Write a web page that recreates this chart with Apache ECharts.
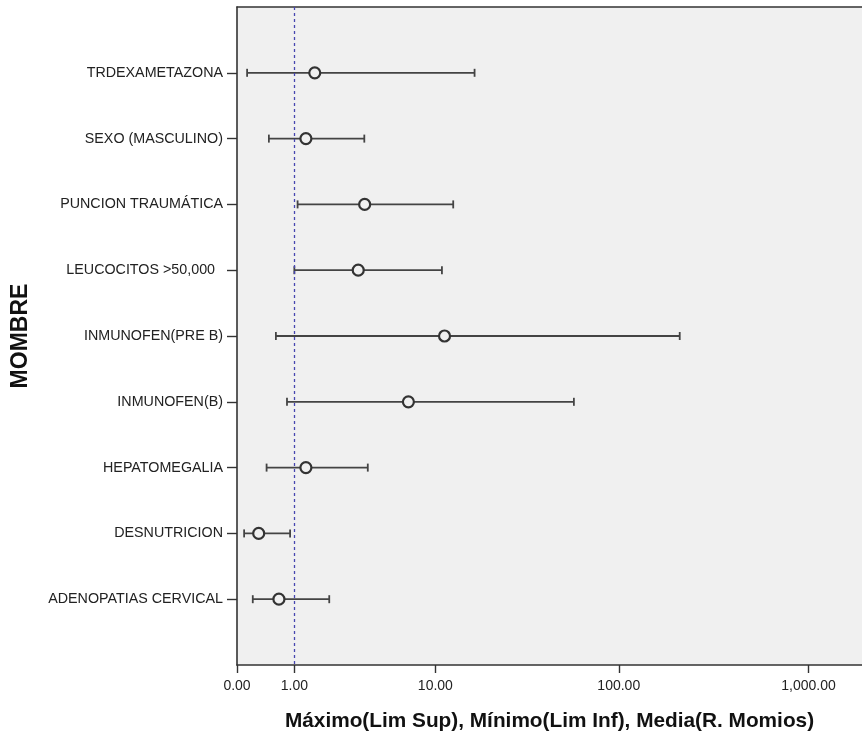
<!DOCTYPE html>
<html>
<head>
<meta charset="utf-8">
<title>Razón de momios por variable</title>
<script src="https://cdn.jsdelivr.net/npm/echarts@6/dist/echarts.min.js"></script>
<style>
  html, body { margin: 0; padding: 0; background: #ffffff; }
  #chart { width: 862px; height: 737px; }
</style>
</head>
<body>
<div id="chart"></div>
<script>
// Variables, top to bottom
const variables = [
  'TRDEXAMETAZONA',
  'SEXO (MASCULINO)',
  'PUNCION TRAUMÁTICA',
  'LEUCOCITOS >50,000  ',
  'INMUNOFEN(PRE B)',
  'INMUNOFEN(B)',
  'HEPATOMEGALIA',
  'DESNUTRICION',
  'ADENOPATIAS CERVICAL'
];

// Odds ratio (media) and its confidence limits
const limInf = [0.13, 0.47, 1.08, 1.00, 0.60, 0.83, 0.43, 0.09, 0.21];
const media  = [1.56, 1.30, 3.68, 3.33, 11.29, 6.94, 1.30, 0.30, 0.66];
const limSup = [16.67, 3.66, 12.65, 10.91, 210.0, 57.7, 3.86, 0.90, 2.05];

// Labelled positions on the horizontal axis
const xTicks = [0, 1, 10, 100, 1000];
const referenceValue = 1;

// "Safe" logarithmic scale: every value is shifted by one so that zero can sit on a log axis
const SHIFT = 1;
const X_MIN = 0;
const X_MAX = 1910;

const FONT = '"Liberation Sans", Arial, Helvetica, sans-serif';

// Blank slots at both ends give the rows their padding from the frame
const yCategories = [''].concat(variables, ['']);

const rows = variables.map((name, i) => [
  name,
  limInf[i] + SHIFT,
  media[i] + SHIFT,
  limSup[i] + SHIFT
]);

function fmtNumber(v) {
  return (v - SHIFT).toLocaleString('en-US', {
    minimumFractionDigits: 2,
    maximumFractionDigits: 2
  });
}

const chart = echarts.init(document.getElementById('chart'), null, { renderer: 'canvas' });

const frameLine = { show: true, lineStyle: { color: '#333', width: 1.5 } };

chart.setOption({
  animation: false,
  backgroundColor: '#ffffff',
  grid: {
    left: 237,
    right: 0,
    top: 7,
    bottom: 72,
    show: true,
    backgroundColor: '#f0f0f0',
    borderWidth: 0
  },
  xAxis: [
    {
      type: 'log',
      logBase: 10,
      min: X_MIN + SHIFT,
      max: X_MAX + SHIFT,
      name: 'Máximo(Lim Sup), Mínimo(Lim Inf), Media(R. Momios)',
      nameLocation: 'middle',
      nameGap: 46,
      nameTextStyle: {
        fontFamily: FONT,
        fontSize: 20.8,
        fontWeight: 'bold',
        color: '#111'
      },
      axisLine: { show: true, lineStyle: { color: '#333', width: 1.6 } },
      axisTick: {
        show: true,
        length: 8,
        customValues: xTicks.map(v => v + SHIFT),
        lineStyle: { color: '#333', width: 1.4 }
      },
      axisLabel: {
        show: true,
        customValues: xTicks.map(v => v + SHIFT),
        margin: 14,
        fontFamily: FONT,
        fontSize: 14,
        color: '#222',
        formatter: fmtNumber
      },
      splitLine: { show: false },
      minorTick: { show: false },
      minorSplitLine: { show: false }
    },
    {
      // top edge of the plot frame
      type: 'log',
      logBase: 10,
      position: 'top',
      min: X_MIN + SHIFT,
      max: X_MAX + SHIFT,
      axisLine: frameLine,
      axisTick: { show: false },
      axisLabel: { show: false },
      splitLine: { show: false },
      minorTick: { show: false },
      minorSplitLine: { show: false }
    }
  ],
  yAxis: {
    type: 'category',
    data: yCategories,
    inverse: true,
    boundaryGap: false,
    name: 'MOMBRE',
    nameLocation: 'middle',
    nameGap: 205,
    nameRotate: 90,
    nameTextStyle: {
      fontFamily: FONT,
      fontSize: 23,
      fontWeight: 'bold',
      color: '#111'
    },
    axisLine: { show: true, lineStyle: { color: '#333', width: 1.6 } },
    axisTick: {
      show: true,
      length: 10,
      interval: (idx, val) => val !== '',
      lineStyle: { color: '#333', width: 1.4 }
    },
    axisLabel: {
      show: true,
      margin: 14,
      interval: 0,
      fontFamily: FONT,
      fontSize: 14.3,
      color: '#222',
      padding: [3, 0, 0, 0]
    },
    splitLine: { show: false }
  },
  series: [
    {
      type: 'custom',
      name: 'R. Momios',
      data: rows,
      xAxisIndex: 0,
      encode: { y: 0, x: [1, 2, 3] },
      clip: false,
      renderItem: function (params, api) {
        const row = api.value(0);
        const lo = api.coord([api.value(1), row]);
        const mid = api.coord([api.value(2), row]);
        const hi = api.coord([api.value(3), row]);
        const cap = 4;
        const lineStyle = { stroke: '#444444', lineWidth: 1.8 };
        return {
          type: 'group',
          children: [
            { type: 'line', shape: { x1: lo[0], y1: lo[1], x2: hi[0], y2: hi[1] }, style: lineStyle },
            { type: 'line', shape: { x1: lo[0], y1: lo[1] - cap, x2: lo[0], y2: lo[1] + cap }, style: lineStyle },
            { type: 'line', shape: { x1: hi[0], y1: hi[1] - cap, x2: hi[0], y2: hi[1] + cap }, style: lineStyle },
            {
              type: 'circle',
              shape: { cx: mid[0], cy: mid[1], r: 5.5 },
              style: { fill: '#f0f0f0', stroke: '#333333', lineWidth: 2.2 }
            }
          ]
        };
      },
      markLine: {
        silent: true,
        symbol: ['none', 'none'],
        label: { show: false },
        lineStyle: { type: [3, 3], color: '#4646b0', width: 1.3 },
        data: [{ xAxis: referenceValue + SHIFT }]
      },
      z: 3
    }
  ]
});
</script>
</body>
</html>
